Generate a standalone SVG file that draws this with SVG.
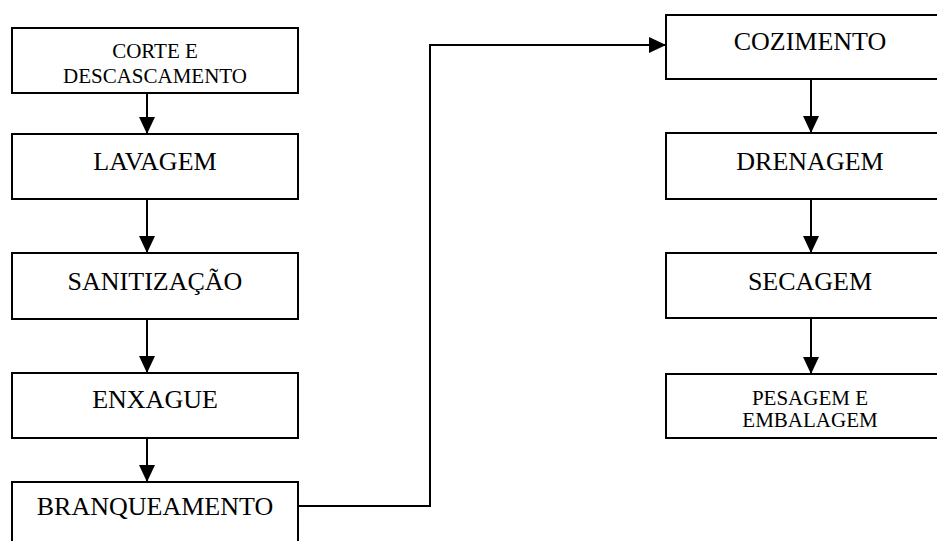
<svg xmlns="http://www.w3.org/2000/svg" width="937" height="541" viewBox="0 0 937 541">
<style>
.box{fill:#fff;stroke:#000;stroke-width:2}
.t{font-family:"Liberation Serif","Times New Roman",serif;font-size:26px;fill:#000;text-anchor:middle}
.s{font-size:21px}
.c{fill:none;stroke:#000;stroke-width:2}
</style>
<defs>
<marker id="ah" markerUnits="userSpaceOnUse" markerWidth="17" markerHeight="16" refX="17" refY="8" orient="auto">
<path d="M0,0 L17,8 L0,16 z" fill="#000"/>
</marker>
</defs>
<rect width="937" height="541" fill="#fff"/>
<g id="connectors">
<path class="c" d="M147,93 V134" marker-end="url(#ah)"/>
<path class="c" d="M147,199 V253" marker-end="url(#ah)"/>
<path class="c" d="M147,319 V373" marker-end="url(#ah)"/>
<path class="c" d="M147,438 V482" marker-end="url(#ah)"/>
<path class="c" d="M298,506 H430 V45 H666" marker-end="url(#ah)"/>
<path class="c" d="M811,79 V133" marker-end="url(#ah)"/>
<path class="c" d="M811,199 V253" marker-end="url(#ah)"/>
<path class="c" d="M811,318 V374" marker-end="url(#ah)"/>
</g>
<g id="corte"><rect class="box" x="12" y="28" width="286" height="65"/><text class="t s" x="155" y="58">CORTE E</text><text class="t s" x="155" y="83">DESCASCAMENTO</text></g>
<g id="lavagem"><rect class="box" x="12" y="134" width="286" height="65"/><text class="t" x="155" y="170">LAVAGEM</text></g>
<g id="sanitizacao"><rect class="box" x="12" y="253" width="286" height="66"/><text class="t" x="155" y="290">SANITIZAÇÃO</text></g>
<g id="enxague"><rect class="box" x="12" y="373" width="286" height="65"/><text class="t" x="155" y="408">ENXAGUE</text></g>
<g id="branqueamento"><rect class="box" x="12" y="482" width="286" height="66"/><text class="t" x="155" y="515">BRANQUEAMENTO</text></g>
<g id="cozimento"><rect class="box" x="666" y="15" width="290" height="64"/><text class="t" x="810" y="50">COZIMENTO</text></g>
<g id="drenagem"><rect class="box" x="666" y="133" width="290" height="66"/><text class="t" x="810" y="170">DRENAGEM</text></g>
<g id="secagem"><rect class="box" x="666" y="253" width="290" height="65"/><text class="t" x="810" y="290">SECAGEM</text></g>
<g id="pesagem"><rect class="box" x="666" y="374" width="290" height="64"/><text class="t s" x="810" y="405">PESAGEM E</text><text class="t s" x="810" y="427">EMBALAGEM</text></g>
</svg>
